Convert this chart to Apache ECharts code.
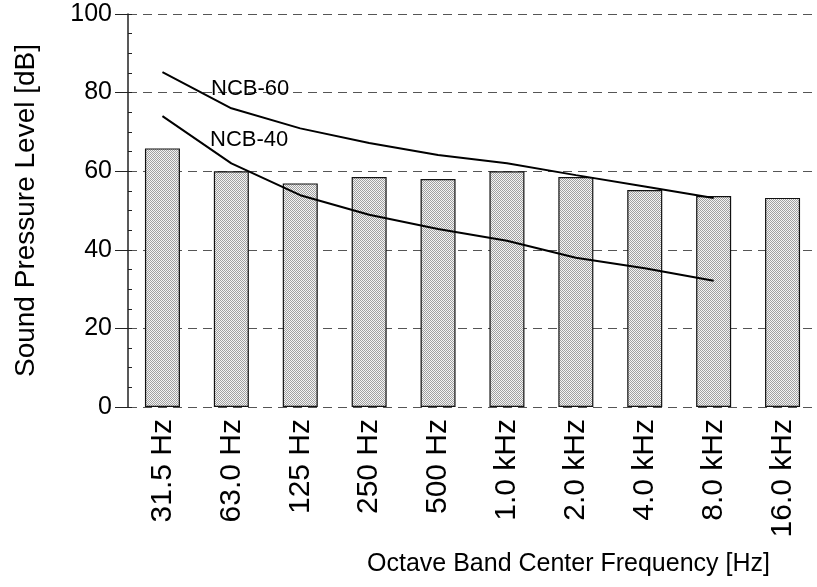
<!DOCTYPE html>
<html>
<head>
<meta charset="utf-8">
<script src="https://cdn.jsdelivr.net/npm/echarts@6/dist/echarts.min.js"></script>
<style>html,body{margin:0;padding:0;background:#fff;}#c{width:817px;height:587px;}</style>
</head>
<body>
<div id="c"></div>
<script>
const categories = ['31.5 Hz','63.0 Hz','125 Hz','250 Hz','500 Hz','1.0 kHz','2.0 kHz','4.0 kHz','8.0 kHz','16.0 kHz'];
const measured = [65.8, 60.0, 56.9, 58.5, 58.0, 60.0, 58.5, 55.2, 53.7, 53.2];
const ncb60 = [85.2, 76.0, 70.9, 67.2, 64.1, 62.0, 59.0, 56.1, 53.2, null];
const ncb40 = [74.0, 62.0, 53.9, 48.9, 45.3, 42.3, 38.0, 35.3, 32.1, null];
const yTicks = [0, 20, 40, 60, 80, 100];

const FONT = 'Liberation Sans, Arial, sans-serif';

// checkered stipple pattern for bars
const pat = document.createElement('canvas');
pat.width = 2; pat.height = 2;
const pctx = pat.getContext('2d');
pctx.fillStyle = '#f4f4f4'; pctx.fillRect(0,0,2,2);
pctx.fillStyle = '#a0a0a0'; pctx.fillRect(0,0,1,1); pctx.fillRect(1,1,1,1);

const chart = echarts.init(document.getElementById('c'), null, {renderer:'canvas'});
chart.setOption({
  backgroundColor: '#fff',
  animation: false,
  title: {
    text: 'Octave Band Center Frequency [Hz]',
    left: 367, top: 552,
    padding: 0,
    textStyle: {fontFamily: FONT, fontSize: 25, fontWeight: 'normal', color: '#000'}
  },
  grid: {left: 128, top: 14, width: 700, height: 393, containLabel: false},
  xAxis: {
    type: 'category',
    data: categories,
    axisLine: {show: false},
    axisTick: {show: false},
    axisLabel: {rotate: 90, margin: 12, fontFamily: FONT, fontSize: 30, color: '#000'},
    splitLine: {show: false}
  },
  yAxis: [{
    type: 'value', min: yTicks[0], max: yTicks[yTicks.length-1], interval: 20,
    name: 'Sound Pressure Level [dB]',
    nameLocation: 'middle', nameGap: 88,
    nameTextStyle: {fontFamily: FONT, fontSize: 28, color: '#000'},
    axisLine: {show: true, lineStyle: {color: '#222', width: 1.5}},
    axisTick: {show: true, length: 13, lineStyle: {color: '#222', width: 1}},
    axisLabel: {margin: 16, fontFamily: FONT, fontSize: 25, color: '#000'},
    splitLine: {show: true, lineStyle: {color: '#555', width: 1, type: [9, 6]}}
  }, {
    type: 'value', min: 0, max: 100, interval: 5, position: 'left',
    axisLine: {show: false},
    axisTick: {show: true, inside: true, length: 4, lineStyle: {color: '#222', width: 1}},
    axisLabel: {show: false},
    splitLine: {show: false}
  }],
  series: [{
    type: 'bar',
    data: measured,
    barWidth: 35,
    itemStyle: {color: {image: pat, repeat: 'repeat'}, borderColor: '#111', borderWidth: 1.2},
    z: 2
  }, {
    type: 'line',
    data: ncb60,
    showSymbol: false, symbol: 'none',
    lineStyle: {color: '#000', width: 2},
    z: 3
  }, {
    type: 'line',
    data: ncb40,
    showSymbol: false, symbol: 'none',
    lineStyle: {color: '#000', width: 2},
    z: 3
  }],
  graphic: [
    {type: 'text', left: 211, top: 78, z: 10, style: {text: 'NCB-60', font: '22px ' + FONT, fill: '#000'}},
    {type: 'text', left: 210, top: 129, z: 10, style: {text: 'NCB-40', font: '22px ' + FONT, fill: '#000'}}
  ]
});
</script>
</body>
</html>
